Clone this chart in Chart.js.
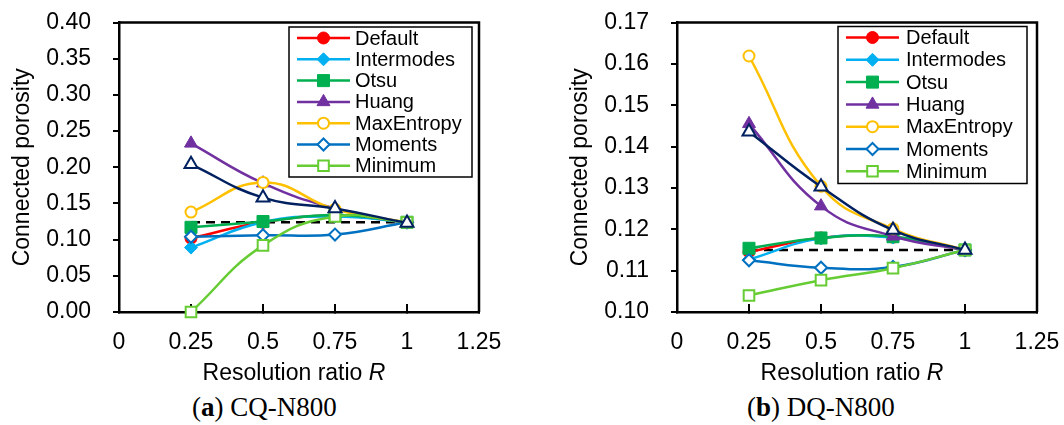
<!DOCTYPE html>
<html>
<head>
<meta charset="utf-8">
<script src="https://cdn.jsdelivr.net/npm/chart.js@4/dist/chart.umd.min.js"></script>
<style>
  body { margin: 0; background: #fff; width: 1064px; height: 425px; position: relative; overflow: hidden; }
  .panel { position: absolute; top: 0; width: 506px; height: 390px; }
  .caption { position: absolute; top: 392px; font: 27px "Liberation Serif", "DejaVu Serif", serif; color: #000; line-height: 30px; white-space: nowrap; }
</style>
</head>
<body>
<div class="panel" style="left:0"><canvas id="chartCQ" width="506" height="390"></canvas></div>
<div class="panel" style="left:558px"><canvas id="chartDQ" width="506" height="390"></canvas></div>
<div class="caption" style="left:192px">(<b>a</b>) CQ-N800</div>
<div class="caption" style="left:747px">(<b>b</b>) DQ-N800</div>
<script>
// Resolution ratios
const xValues = [0.25, 0.5, 0.75, 1];
const xTickLabels = ['0', '0.25', '0.5', '0.75', '1', '1.25'];
const seriesNames = ['Default', 'Intermodes', 'Otsu', 'Huang', 'MaxEntropy', 'Moments', 'Minimum'];

// (a) CQ-N800
const cqDefault    = [0.102, 0.124, 0.133, 0.124];
const cqIntermodes = [0.089, 0.124, 0.132, 0.124];
const cqOtsu       = [0.117, 0.125, 0.134, 0.124];
const cqHuang      = [0.233, 0.178, 0.143, 0.123];
const cqMaxEntropy = [0.138, 0.179, 0.142, 0.124];
const cqMoments    = [0.104, 0.106, 0.107, 0.124];
const cqMinimum    = [0.000, 0.092, 0.132, 0.124];
const cqReference  = [0.204, 0.158, 0.143, 0.123];
const cqBaseline   = 0.124;

// (b) DQ-N800
const dqDefault    = [0.1145, 0.1179, 0.1181, 0.115];
const dqIntermodes = [0.1127, 0.1178, 0.1180, 0.115];
const dqOtsu       = [0.1154, 0.1179, 0.1182, 0.115];
const dqHuang      = [0.1455, 0.1256, 0.1183, 0.115];
const dqMaxEntropy = [0.1619, 0.1304, 0.1201, 0.115];
const dqMoments    = [0.1125, 0.1107, 0.1109, 0.115];
const dqMinimum    = [0.1040, 0.1077, 0.1106, 0.115];
const dqReference  = [0.1436, 0.1303, 0.1198, 0.115];
const dqBaseline   = 0.115;

// marker / line styles per series
const seriesStyles = [
  { color: '#FF0000', point: 'circle',  radius: 6,   filled: true },
  { color: '#00B0F0', point: 'rectRot', radius: 6.5, filled: true },
  { color: '#00B050', point: 'rect',    radius: 8.5, filled: true },
  { color: '#7030A0', point: 'triangle', radius: 7.5, filled: true },
  { color: '#FFC000', point: 'circle',  radius: 5.5, filled: false },
  { color: '#0070C0', point: 'rectRot', radius: 6,   filled: false },
  { color: '#66CC33', point: 'rect',    radius: 7.5, filled: false },
];
const referenceStyle = { color: '#002060', point: 'triangle', radius: 7.5, filled: false };

const FONT = "'Liberation Sans', Arial, sans-serif";
Chart.defaults.font.family = FONT;
Chart.defaults.color = '#000';

function toPoints(values) {
  return values.map((v, i) => ({ x: xValues[i], y: v }));
}

function lineDataset(label, values, st, order) {
  return {
    label: label,
    data: toPoints(values),
    showLine: true,
    tension: 0.45,
    borderColor: st.color,
    borderWidth: 2.5,
    pointStyle: st.point,
    pointRadius: st.radius,
    pointHoverRadius: st.radius,
    pointBorderWidth: st.filled ? 1 : 2,
    pointBorderColor: st.color,
    pointBackgroundColor: st.filled ? st.color : '#fff',
    clip: false,
    order: order
  };
}

// draws top/right frame lines of the plot box
const frame = {
  id: 'frame',
  beforeDatasetsDraw(chart) {
    const a = chart.chartArea, ctx = chart.ctx;
    ctx.save();
    ctx.strokeStyle = '#000';
    ctx.lineWidth = 2.5;
    ctx.beginPath();
    ctx.moveTo(a.left, a.top);
    ctx.lineTo(a.right, a.top);
    ctx.lineTo(a.right, a.bottom);
    ctx.stroke();
    ctx.restore();
  }
};

// boxed legend with line + marker samples
const boxLegend = {
  id: 'boxLegend',
  afterDatasetsDraw(chart, args, opts) {
    const a = chart.chartArea, ctx = chart.ctx;
    const left = a.right - opts.rightGap - opts.width;
    const top = a.top + opts.topGap;
    ctx.save();
    ctx.fillStyle = '#fff';
    ctx.fillRect(left, top, opts.width, opts.height);
    ctx.strokeStyle = '#000';
    ctx.lineWidth = 1.5;
    ctx.strokeRect(left, top, opts.width, opts.height);
    ctx.font = opts.fontSize + 'px ' + FONT;
    ctx.textBaseline = 'middle';
    ctx.textAlign = 'left';
    let row = 0;
    chart.data.datasets.forEach(ds => {
      if (!seriesNames.includes(ds.label)) return;
      const y = top + opts.firstRow + row * opts.rowGap;
      ctx.strokeStyle = ds.borderColor;
      ctx.lineWidth = 2.5;
      ctx.beginPath();
      ctx.moveTo(left + 8, y);
      ctx.lineTo(left + 61, y);
      ctx.stroke();
      ctx.fillStyle = ds.pointBackgroundColor;
      ctx.strokeStyle = ds.pointBorderColor;
      ctx.lineWidth = ds.pointBorderWidth;
      Chart.helpers.drawPoint(ctx, { pointStyle: ds.pointStyle, radius: ds.pointRadius, rotation: 0, borderWidth: ds.pointBorderWidth }, left + 34.5, y);
      ctx.fillStyle = '#000';
      ctx.fillText(ds.label, left + opts.textGap, y + 1);
      row++;
    });
    ctx.restore();
  }
};

// x axis title with italic R
const xTitle = {
  id: 'xTitle',
  afterDraw(chart) {
    const a = chart.chartArea, ctx = chart.ctx;
    const plain = 'Resolution ratio ';
    ctx.save();
    ctx.font = '23px ' + FONT;
    const w1 = ctx.measureText(plain).width;
    ctx.font = 'italic 23px ' + FONT;
    const w2 = ctx.measureText('R').width;
    const x0 = (a.left + a.right) / 2 - 5 - (w1 + w2) / 2;
    const y = 374;
    ctx.fillStyle = '#000';
    ctx.textBaseline = 'middle';
    ctx.textAlign = 'left';
    ctx.font = '23px ' + FONT;
    ctx.fillText(plain, x0, y);
    ctx.font = 'italic 23px ' + FONT;
    ctx.fillText('R', x0 + w1, y);
    ctx.restore();
  }
};

function makeChart(id, series, reference, baseline, yMin, yMax, yStep, legendOpts) {
  const datasets = series.map((vals, i) => lineDataset(seriesNames[i], vals, seriesStyles[i], 10 - i));
  datasets.push(lineDataset('Reference', reference, referenceStyle, 0));
  datasets.push({
    label: 'Baseline',
    data: [{ x: xValues[0], y: baseline }, { x: xValues[xValues.length - 1], y: baseline }],
    showLine: true,
    borderColor: '#000',
    borderWidth: 2.5,
    borderDash: [9, 6],
    pointRadius: 0,
    order: 20
  });

  new Chart(document.getElementById(id), {
    type: 'scatter',
    data: { datasets: datasets },
    plugins: [frame, boxLegend, xTitle],
    options: {
      responsive: false,
      animation: false,
      layout: { padding: { left: 0, right: 27, top: 22.5, bottom: 0 } },
      plugins: {
        legend: { display: false },
        tooltip: { enabled: false },
        boxLegend: legendOpts
      },
      scales: {
        x: {
          type: 'linear',
          min: 0,
          max: 1.25,
          afterFit: s => { s.height = 78; s.paddingLeft = 0; s.paddingRight = 0; },
          afterBuildTicks: s => { s.ticks = xTickLabels.map((t, i) => ({ value: i * 0.25 })); },
          ticks: {
            font: { size: 23 },
            padding: 25,
            maxRotation: 0,
            callback: (v, i) => xTickLabels[i]
          },
          grid: { drawOnChartArea: false, drawTicks: true, tickLength: -8, color: '#000', lineWidth: 2 },
          border: { color: '#000', width: 2.5 }
        },
        y: {
          min: yMin,
          max: yMax,
          afterFit: s => { s.width = 119; s.paddingTop = 0; s.paddingBottom = 0; },
          ticks: {
            stepSize: yStep,
            font: { size: 23 },
            padding: 22,
            callback: v => Number(v).toFixed(2)
          },
          grid: { drawOnChartArea: false, drawTicks: true, tickLength: 6, color: '#000', lineWidth: 2 },
          border: { color: '#000', width: 2.5 },
          title: {
            display: true,
            text: 'Connected porosity',
            font: { size: 23 },
            padding: { top: 9, bottom: 0 }
          }
        }
      }
    }
  });
}

makeChart('chartCQ',
  [cqDefault, cqIntermodes, cqOtsu, cqHuang, cqMaxEntropy, cqMoments, cqMinimum],
  cqReference, cqBaseline, 0, 0.4, 0.05,
  { width: 183, height: 150, rightGap: 7, topGap: 4.5, firstRow: 11, rowGap: 21.3, textGap: 66, fontSize: 20 });

makeChart('chartDQ',
  [dqDefault, dqIntermodes, dqOtsu, dqHuang, dqMaxEntropy, dqMoments, dqMinimum],
  dqReference, dqBaseline, 0.10, 0.17, 0.01,
  { width: 189, height: 157, rightGap: 10, topGap: 4, firstRow: 11, rowGap: 22.3, textGap: 68, fontSize: 20 });
</script>
</body>
</html>
